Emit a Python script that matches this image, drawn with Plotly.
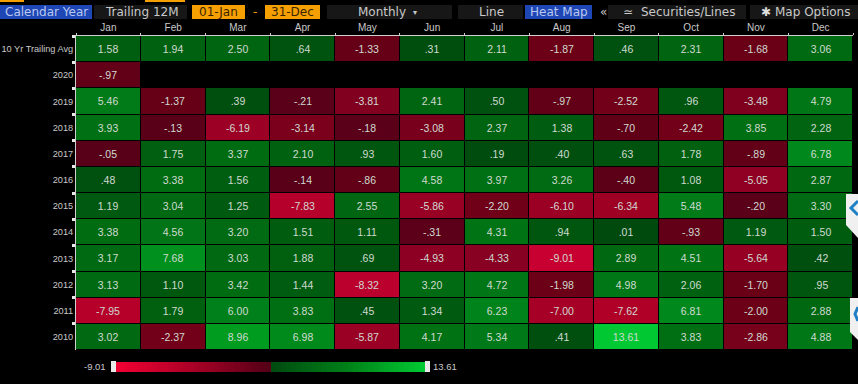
import numpy as np
import plotly.graph_objects as go

W, H = 858, 384
months = ["Jan","Feb","Mar","Apr","May","Jun","Jul","Aug","Sep","Oct","Nov","Dec"]
rows = ["10 Yr Trailing Avg","2020","2019","2018","2017","2016","2015","2014","2013","2012","2011","2010"]
avg10  = [1.58,1.94,2.50,.64,-1.33,.31,2.11,-1.87,.46,2.31,-1.68,3.06]
y2020  = [-.97,None,None,None,None,None,None,None,None,None,None,None]
y2019  = [5.46,-1.37,.39,-.21,-3.81,2.41,.50,-.97,-2.52,.96,-3.48,4.79]
y2018  = [3.93,-.13,-6.19,-3.14,-.18,-3.08,2.37,1.38,-.70,-2.42,3.85,2.28]
y2017  = [-.05,1.75,3.37,2.10,.93,1.60,.19,.40,.63,1.78,-.89,6.78]
y2016  = [.48,3.38,1.56,-.14,-.86,4.58,3.97,3.26,-.40,1.08,-5.05,2.87]
y2015  = [1.19,3.04,1.25,-7.83,2.55,-5.86,-2.20,-6.10,-6.34,5.48,-.20,3.30]
y2014  = [3.38,4.56,3.20,1.51,1.11,-.31,4.31,.94,.01,-.93,1.19,1.50]
y2013  = [3.17,7.68,3.03,1.88,.69,-4.93,-4.33,-9.01,2.89,4.51,-5.64,.42]
y2012  = [3.13,1.10,3.42,1.44,-8.32,3.20,4.72,-1.98,4.98,2.06,-1.70,.95]
y2011  = [-7.95,1.79,6.00,3.83,.45,1.34,6.23,-7.00,-7.62,6.81,-2.00,2.88]
y2010  = [3.02,-2.37,8.96,6.98,-5.87,4.17,5.34,.41,13.61,3.83,-2.86,4.88]
table = [avg10,y2020,y2019,y2018,y2017,y2016,y2015,y2014,y2013,y2012,y2011,y2010]
zmin, zmax = -9.01, 13.61

def fmt(v):
    if v is None:
        return ""
    s = f"{abs(v):.2f}"
    if abs(v) < 1:
        s = s[1:]
    return ("-" if v < 0 else "") + s
text = [[fmt(v) for v in r] for r in table]

span = zmax - zmin
def stop(v):
    return (v - zmin) / span
colorscale = [
    [0, "#c80032"],
    [stop(-7.62), "#b00028"],
    [stop(-6.19), "#9c0024"],
    [stop(-4.33), "#880022"],
    [stop(-3.14), "#7a001c"],
    [stop(-1.98), "#6c0016"],
    [stop(-0.001), "#580018"],
    [stop(0), "#004a0e"],
    [stop(1.56), "#005e10"],
    [stop(3.37), "#006c12"],
    [stop(5.34), "#007a18"],
    [stop(6.98), "#008a1c"],
    [stop(8.96), "#009c20"],
    [1, "#00c832"],
]
legend_scale = [[0, "#f00032"], [0.25, "#a80026"], [0.4999, "#520016"], [0.5, "#004a10"], [0.75, "#008018"], [1, "#00c832"]]

FONT = "Liberation Sans"
TXT = "#c9c9c9"
fig = go.Figure()
fig.add_trace(go.Heatmap(
    x=months, y=rows, z=table, text=text, texttemplate="%{text}",
    textfont=dict(family=FONT, size=10.5, color="#d0dad0"),
    coloraxis="coloraxis", xgap=1, ygap=1, hoverongaps=False))

# legend ramp: its own colour axis, each half gets equal width
ramp = np.linspace(-1, 1, 60)
fig.add_trace(go.Heatmap(z=[ramp.tolist()], xaxis="x2", yaxis="y2", coloraxis="coloraxis2", hoverinfo="skip"))

def px(x): return x / W
def py(y): return 1 - y / H

fig.update_layout(
    width=W, height=H, margin=dict(l=0, r=0, t=0, b=0),
    paper_bgcolor="#000000", plot_bgcolor="#000000",
    coloraxis=dict(colorscale=colorscale, cmin=zmin, cmax=zmax, showscale=False),
    coloraxis2=dict(colorscale=legend_scale, cmin=-1, cmax=1, showscale=False),
    showlegend=False,
    xaxis=dict(domain=[px(76), px(853)], side="top", type="category", tickson="boundaries", automargin=False,
               ticks="outside", ticklen=2, tickcolor="#cfcfcf", showline=True, linecolor="#cfcfcf", linewidth=1,
               showgrid=False, zeroline=False, tickfont=dict(family=FONT, size=10, color=TXT), anchor="y"),
    yaxis=dict(domain=[py(350), py(36)], autorange="reversed", type="category", tickson="boundaries", automargin=False,
               ticks="outside", ticklen=3, tickwidth=3, tickcolor="#e8e8e8", showline=True, linecolor="#cfcfcf", linewidth=1,
               showgrid=False, zeroline=False, tickfont=dict(family=FONT, size=9.2, color=TXT), anchor="x"),
    xaxis2=dict(domain=[px(116), px(425)], visible=False, anchor="y2"),
    yaxis2=dict(domain=[py(372), py(362)], visible=False, anchor="x2"),
)

def rect(x0, y0, x1, y1, color):
    fig.add_shape(type="rect", xref="paper", yref="paper", x0=px(x0), x1=px(x1), y0=py(y0), y1=py(y1),
                  fillcolor=color, line_width=0, layer="below")
def label(x, y, s, color=TXT, size=12, anchor="center", family="DejaVu Sans"):
    fig.add_annotation(xref="paper", yref="paper", x=px(x), y=py(y), text=s, showarrow=False,
                       xanchor=anchor, yanchor="middle", font=dict(family=family, size=size, color=color))

# toolbar
for x0, x1, c in [(0,92,"#1e46b4"),(94,187,"#171717"),(192,245,"#f5a000"),(265,320,"#f5a000"),
                  (327,452,"#171717"),(458,523,"#171717"),(525,592,"#1e46b4"),(608,746,"#171717"),(750,858,"#171717")]:
    rect(x0, 5, x1, 19, c)
for x0, x1 in [(0,24),(145,185)]:
    rect(x0, 0, x1, 2, "#f5a000")
label(46, 12, "Calendar Year", "#b9c8f0")
label(142, 12, "Trailing 12M", "#c9c9c9")
label(218, 12, "01-Jan", "#3a2400")
label(255, 12, "-", "#f5a000")
label(292, 12, "31-Dec", "#3a2400")
label(382, 12, "Monthly", "#c9c9c9")
label(415, 12, "▾", "#c9c9c9", 8)
label(491, 12, "Line", "#c9c9c9")
label(559, 12, "Heat Map", "#b9c8f0")
label(603, 12, "«", "#c9c9c9")
label(628, 12, "≃", "#c9c9c9")
label(688, 12, "Securities/Lines", "#c9c9c9")
label(766, 12, "✱", "#e0e0e0")
label(812, 12, "Map Options", "#c9c9c9")

# legend bar ends and labels
label(108, 366, "-9.01", "#c9c9c9", 9.5, anchor="right", family=FONT)
label(445, 366, "13.61", "#c9c9c9", 9.5, family=FONT)
rect(111, 361, 116, 372, "#e8e8e8")
rect(425, 361, 430, 372, "#e8e8e8")

# side tabs
for x0, y0, y1, cut, cy in [(846, 194, 238, 13, 208), (850, 298, 340, 8, 314)]:
    fig.add_shape(type="path", xref="paper", yref="paper",
                  path=f"M {px(x0)} {py(y0)} L {px(858)} {py(y0)} L {px(858)} {py(y1)} L {px(x0)} {py(y1-cut)} Z",
                  fillcolor="#f0f0f0", line_width=0, layer="above")
    fig.add_shape(type="path", xref="paper", yref="paper",
                  path=f"M {px(858)} {py(cy-7)} L {px(x0+5)} {py(cy)} L {px(858)} {py(cy+7)}",
                  line=dict(color="#1f7fc4", width=3), layer="above")

fig.write_html("out.html", config=dict(displayModeBar=False),
               post_script="document.body.style.margin='0';document.body.style.background='#000';")
